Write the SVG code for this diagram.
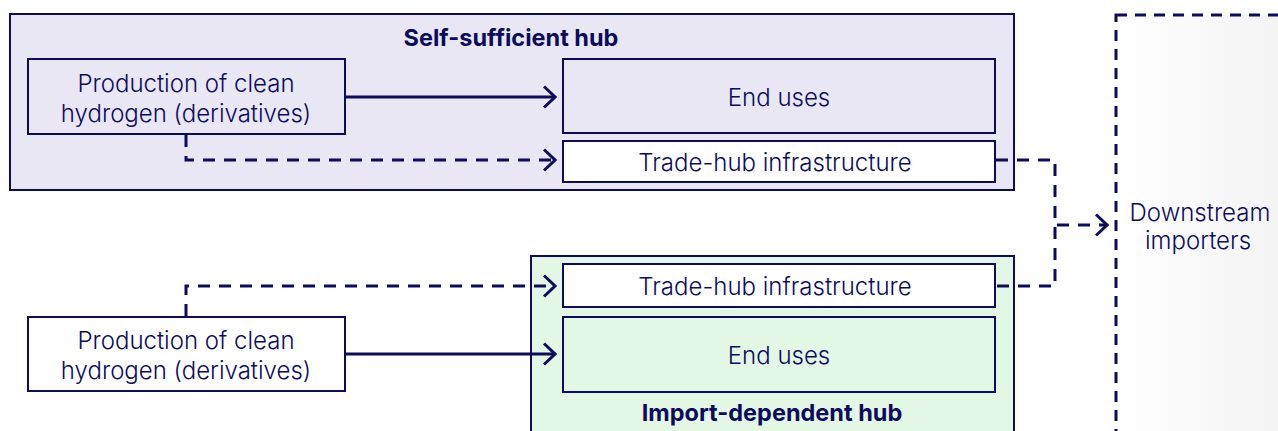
<svg xmlns="http://www.w3.org/2000/svg" width="1278" height="431" viewBox="0 0 1278 431">
  <defs>
    <linearGradient id="fadeGrey" x1="0" y1="0" x2="1" y2="0">
      <stop offset="0" stop-color="#ffffff"/>
      <stop offset="1" stop-color="#f1f1f1"/>
    </linearGradient>
    <marker id="chev" viewBox="0 0 14 24" refX="12.5" refY="12" markerWidth="14" markerHeight="24" markerUnits="userSpaceOnUse" orient="auto">
      <path d="M1.5,1.5 L12.5,12 L1.5,22.5" fill="none" stroke="#0c0b5e" stroke-width="3"/>
    </marker>
  </defs>
  <style>
    .box { stroke: #0c0b5e; stroke-width: 2; }
    .lbl { font-family: Inter, "Liberation Sans", sans-serif; font-size: 24px; font-weight: 300; fill: #0c0b5e; text-anchor: middle; }
    .ttl { font-family: Inter, "Liberation Sans", sans-serif; font-size: 23.5px; font-weight: 700; fill: #0c0b5e; text-anchor: middle; }
    .solid { fill: none; stroke: #0c0b5e; stroke-width: 3; }
    .dash { fill: none; stroke: #0c0b5e; stroke-width: 3; stroke-dasharray: 12 9; }
  </style>

  <rect width="1278" height="431" fill="#ffffff"/>

  <!-- Downstream importers region -->
  <g id="downstream">
    <rect x="1116" y="15" width="200" height="440" fill="url(#fadeGrey)" stroke="#0c0b5e" stroke-width="3" stroke-dasharray="11 8"/>
    <text class="lbl" x="1200" y="221">Downstream</text>
    <text class="lbl" x="1198" y="249">importers</text>
  </g>

  <!-- Self-sufficient hub container -->
  <g id="self-sufficient-hub">
    <rect class="box" x="10" y="14" width="1004" height="176" fill="#e8e7f3"/>
    <text class="ttl" x="511" y="46">Self-sufficient hub</text>
  </g>
  <g id="prod-top">
    <rect class="box" x="28" y="59" width="317" height="75" fill="#e8e7f3"/>
    <text class="lbl" x="186" y="92">Production of clean</text>
    <text class="lbl" x="186" y="122">hydrogen (derivatives)</text>
  </g>
  <g id="enduses-top">
    <rect class="box" x="563" y="59" width="432" height="74" fill="#e8e7f3"/>
    <text class="lbl" x="779" y="106">End uses</text>
  </g>
  <g id="trade-top">
    <rect class="box" x="563" y="141" width="432" height="41" fill="#ffffff"/>
    <text class="lbl" x="775" y="171">Trade-hub infrastructure</text>
  </g>

  <!-- Import-dependent hub container -->
  <g id="import-dependent-hub">
    <rect class="box" x="531" y="256" width="483" height="200" fill="#e3f7e5"/>
    <text class="ttl" x="772" y="421">Import-dependent hub</text>
  </g>
  <g id="trade-bottom">
    <rect class="box" x="563" y="264" width="432" height="43" fill="#ffffff"/>
    <text class="lbl" x="775" y="295">Trade-hub infrastructure</text>
  </g>
  <g id="enduses-bottom">
    <rect class="box" x="563" y="317" width="432" height="75" fill="#e3f7e5"/>
    <text class="lbl" x="779" y="364">End uses</text>
  </g>
  <g id="prod-bottom">
    <rect class="box" x="28" y="317" width="317" height="74" fill="#ffffff"/>
    <text class="lbl" x="186" y="349">Production of clean</text>
    <text class="lbl" x="186" y="379">hydrogen (derivatives)</text>
  </g>

  <!-- Connectors -->
  <g id="connectors">
    <path class="solid" d="M345,97 H555" marker-end="url(#chev)"/>
    <path class="dash" d="M186,135 V160 H555" marker-end="url(#chev)"/>
    <path class="dash" d="M186,316 V286 H555" marker-end="url(#chev)"/>
    <path class="solid" d="M345,354 H555" marker-end="url(#chev)"/>
    <path class="dash" d="M996,160 H1055 V286 H996"/>
    <path class="dash" d="M1057,225 H1107" marker-end="url(#chev)"/>
  </g>
</svg>
